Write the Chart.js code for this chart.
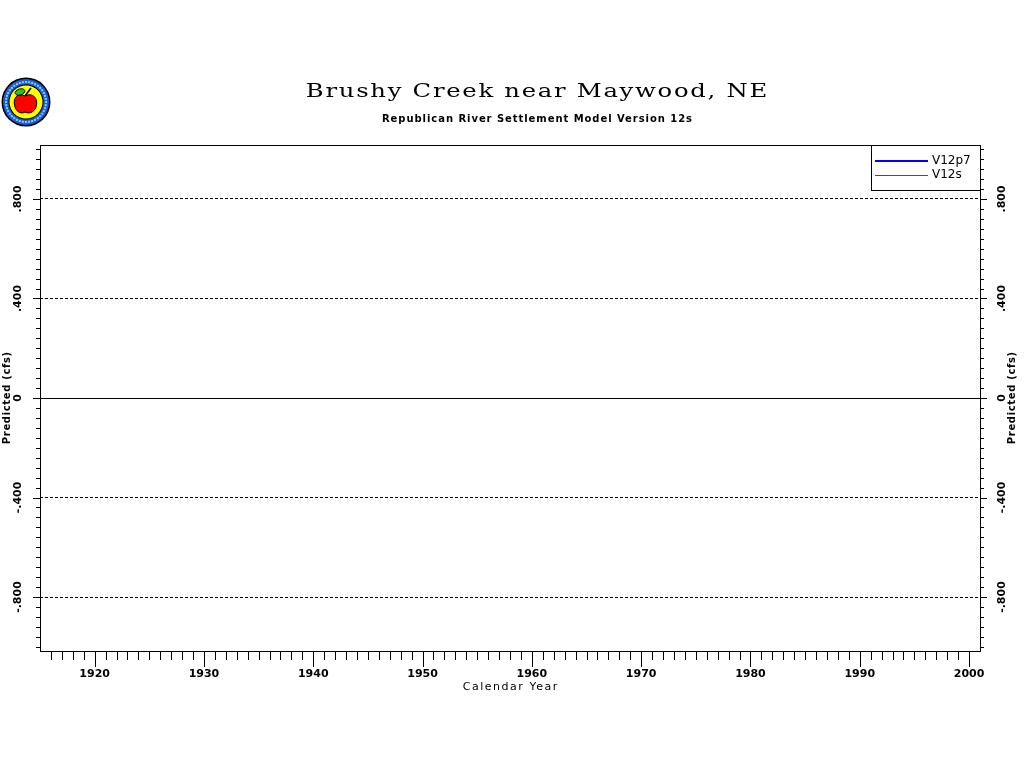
<!DOCTYPE html>
<html><head><meta charset="utf-8">
<script src="https://cdn.jsdelivr.net/npm/chart.js@4"></script>
<style>html,body{margin:0;padding:0;background:#fff}#wrap{width:1024px;height:768px;position:relative}canvas{display:block}</style>
</head><body><div id="wrap"><canvas id="c" width="1024" height="768"></canvas></div>
<script>
// ---- text ----
const chartTitle = 'Brushy Creek near Maywood, NE';
const chartSubtitle = 'Republican River Settlement Model Version 12s';
const xAxisTitle = 'Calendar Year';
const yAxisTitle = 'Predicted (cfs)';
// ---- series (the reference plot shows no data points) ----
const seriesNames = ['V12p7', 'V12s'];
const seriesColors = ['#0000ff', '#ff0000'];
const seriesWidths = [2, 1];
const v12p7Years = [];
const v12p7Values = [];
const v12sYears = [];
const v12sValues = [];
// ---- axes ----
const xMin = 1915, xMax = 2001;
const xLabelYears = [1920, 1930, 1940, 1950, 1960, 1970, 1980, 1990, 2000];
const xFirstMinor = 1916, xLastMinor = 2000;
const yMin = -1.017, yMax = 1.017;
const yLabelValues = [-0.8, -0.4, 0, 0.4, 0.8];
const yLabelTexts = ['-.800', '-.400', '0', '.400', '.800'];
const yMinorStep = 0.04, yMinorFrom = -1.0, yMinorTo = 1.0;

const xTickValues = [];
for (let v = xFirstMinor; v <= xLastMinor; v++) xTickValues.push(v);
const yTickValues = [];
for (let i = 0; Math.round((yMinorFrom + i * yMinorStep) * 1000) / 1000 <= yMinorTo; i++) {
  yTickValues.push(Math.round((yMinorFrom + i * yMinorStep) * 1000) / 1000);
}
const yLabelIndex = v => yLabelValues.findIndex(l => Math.abs(l - v) < 1e-6);

const tickFont = { family: 'DejaVu Sans', size: 11, weight: 'bold' };

function fitText(ctx, text, cx, cy, targetW, font, rot, sx) {
  sx = sx || 1;
  ctx.save();
  ctx.font = font;
  ctx.letterSpacing = '0px';
  const w0 = ctx.measureText(text).width;
  const ls = (targetW / sx - w0) / text.length;
  ctx.letterSpacing = ls + 'px';
  ctx.translate(cx, cy);
  if (rot) ctx.rotate(rot);
  ctx.scale(sx, 1);
  ctx.textAlign = 'left';
  ctx.textBaseline = 'middle';
  ctx.fillStyle = '#000';
  ctx.fillText(text, -targetW / sx / 2 + ls / 2, 0);
  ctx.restore();
}

function drawLogo(ctx) {
  const cx = 26, cy = 102;
  ctx.save();
  ctx.beginPath(); ctx.arc(cx, cy, 24.5, 0, Math.PI * 2); ctx.fillStyle = '#000'; ctx.fill();
  ctx.beginPath(); ctx.arc(cx, cy, 23, 0, Math.PI * 2); ctx.fillStyle = '#1e5adc'; ctx.fill();
  ctx.fillStyle = '#7fd4ff';
  for (let a = 0; a < 40; a++) {
    const ang = a / 40 * Math.PI * 2;
    ctx.fillRect(cx + Math.cos(ang) * 20 - 1, cy + Math.sin(ang) * 20 - 1, 2, 2);
  }
  ctx.beginPath(); ctx.arc(cx, cy, 17.5, 0, Math.PI * 2); ctx.fillStyle = '#000'; ctx.fill();
  ctx.beginPath(); ctx.arc(cx, cy, 16.5, 0, Math.PI * 2); ctx.fillStyle = '#ffff00'; ctx.fill();
  // apple
  ctx.fillStyle = '#ff0000'; ctx.strokeStyle = '#000'; ctx.lineWidth = 1;
  ctx.beginPath();
  ctx.moveTo(cx - 1, cy - 6);
  ctx.bezierCurveTo(cx - 8, cy - 10, cx - 14, cy - 4, cx - 11, cy + 5);
  ctx.bezierCurveTo(cx - 9, cy + 11, cx - 4, cy + 12, cx - 1, cy + 10);
  ctx.bezierCurveTo(cx + 2, cy + 12, cx + 8, cy + 11, cx + 10, cy + 5);
  ctx.bezierCurveTo(cx + 13, cy - 4, cx + 6, cy - 10, cx - 1, cy - 6);
  ctx.closePath(); ctx.fill(); ctx.stroke();
  // stem
  ctx.beginPath(); ctx.moveTo(cx - 1, cy - 6); ctx.lineTo(cx + 5, cy - 14); ctx.lineWidth = 1.5; ctx.stroke();
  // leaf
  ctx.fillStyle = '#22c822';
  ctx.beginPath(); ctx.ellipse(cx - 6, cy - 10, 5, 3, -0.3, 0, Math.PI * 2); ctx.fill();
  ctx.lineWidth = 1; ctx.stroke();
  ctx.restore();
}

const decorPlugin = {
  id: 'decor',
  afterDraw(chart) {
    const ctx = chart.ctx;
    const a = chart.chartArea;
    const xs = chart.scales.x, ys = chart.scales.y;
    ctx.save();
    ctx.strokeStyle = '#000';
    ctx.lineWidth = 1;
    // frame
    ctx.strokeRect(Math.round(a.left) + 0.5, Math.round(a.top) + 0.5, Math.round(a.right - a.left), Math.round(a.bottom - a.top));
    // x ticks
    ctx.beginPath();
    xs.ticks.forEach(t => {
      const px = Math.round(xs.getPixelForValue(t.value)) + 0.5;
      const len = xLabelYears.includes(t.value) ? 16 : 9;
      ctx.moveTo(px, Math.round(a.bottom)); ctx.lineTo(px, Math.round(a.bottom) + len);
    });
    // y ticks both sides
    ys.ticks.forEach(t => {
      const py = Math.round(ys.getPixelForValue(t.value)) + 0.5;
      const len = yLabelIndex(t.value) >= 0 ? 7 : 4;
      ctx.moveTo(Math.round(a.left) - len, py); ctx.lineTo(Math.round(a.left), py);
      ctx.moveTo(Math.round(a.right), py); ctx.lineTo(Math.round(a.right) + len, py);
    });
    ctx.stroke();
    // legend
    const lx = 871.5, ly = 145.5, lw = Math.round(a.right) - 871, lh = 45;
    ctx.fillStyle = '#fff';
    ctx.fillRect(lx, ly, lw, lh);
    ctx.strokeRect(lx, ly, lw, lh);
    chart.data.datasets.forEach((ds, i) => {
      const y = 161 + i * 14;
      const w = ds.borderWidth;
      ctx.fillStyle = ds.borderColor;
      ctx.fillRect(875, Math.round(y - w / 2), 53, w);
      ctx.fillStyle = '#000';
      ctx.font = '12px "DejaVu Sans"';
      ctx.textAlign = 'left';
      ctx.textBaseline = 'middle';
      ctx.fillText(ds.label, 932, y);
    });
    ctx.restore();
    // titles
    fitText(ctx, chartTitle, 536.5, 92, 463, '18px "DejaVu Serif"', 0, 1.35);
    fitText(ctx, chartSubtitle, 537, 119, 311, 'bold 10px "DejaVu Sans"', 0);
    fitText(ctx, xAxisTitle, 510, 687, 96, '11px "DejaVu Sans"', 0);
    fitText(ctx, yAxisTitle, 7.5, 398, 93, 'bold 10px "DejaVu Sans"', -Math.PI / 2);
    fitText(ctx, yAxisTitle, 1012, 398, 93, 'bold 10px "DejaVu Sans"', -Math.PI / 2);
    drawLogo(ctx);
  }
};

const yTickOpts = {
  autoSkip: false,
  minRotation: 90,
  maxRotation: 90,
  crossAlign: 'center',
  padding: 6,
  color: '#000',
  font: tickFont,
  callback: v => { const i = yLabelIndex(v); return i >= 0 ? yLabelTexts[i] : ''; }
};

new Chart(document.getElementById('c'), {
  type: 'line',
  data: {
    datasets: [
      { label: seriesNames[0], data: v12p7Years.map((x, i) => ({ x, y: v12p7Values[i] })), borderColor: seriesColors[0], borderWidth: seriesWidths[0], pointRadius: 0, fill: false },
      { label: seriesNames[1], data: v12sYears.map((x, i) => ({ x, y: v12sValues[i] })), borderColor: seriesColors[1], borderWidth: seriesWidths[1], pointRadius: 0, fill: false }
    ]
  },
  options: {
    responsive: false,
    animation: false,
    events: [],
    layout: { padding: { top: 145, left: 0, right: 0, bottom: 0 } },
    plugins: { legend: { display: false }, title: { display: false }, tooltip: { enabled: false } },
    scales: {
      x: {
        type: 'linear', position: 'bottom', min: xMin, max: xMax,
        afterBuildTicks: s => { s.ticks = xTickValues.map(v => ({ value: v })); },
        afterFit: s => { s.height = 117; },
        ticks: {
          autoSkip: false, maxRotation: 0, minRotation: 0, padding: 17, color: '#000', font: tickFont,
          callback: v => xLabelYears.includes(v) ? String(v) : ''
        },
        grid: { drawOnChartArea: false, drawTicks: false },
        border: { display: false }
      },
      y: {
        type: 'linear', position: 'left', min: yMin, max: yMax,
        afterBuildTicks: s => { s.ticks = yTickValues.map(v => ({ value: v })); },
        afterFit: s => { s.width = 40; },
        ticks: yTickOpts,
        grid: {
          drawOnChartArea: true, drawTicks: false, lineWidth: 1,
          color: c => (c.tick && yLabelIndex(c.tick.value) >= 0) ? '#000' : 'rgba(0,0,0,0)'
        },
        border: {
          display: false,
          dash: c => (c.tick && Math.abs(c.tick.value) < 1e-6) ? [] : [3, 2]
        }
      },
      y2: {
        type: 'linear', position: 'right', min: yMin, max: yMax,
        afterBuildTicks: s => { s.ticks = yTickValues.map(v => ({ value: v })); },
        afterFit: s => { s.width = 44; },
        ticks: yTickOpts,
        grid: { drawOnChartArea: false, drawTicks: false },
        border: { display: false }
      }
    }
  },
  plugins: [decorPlugin]
});
</script>
</body></html>
